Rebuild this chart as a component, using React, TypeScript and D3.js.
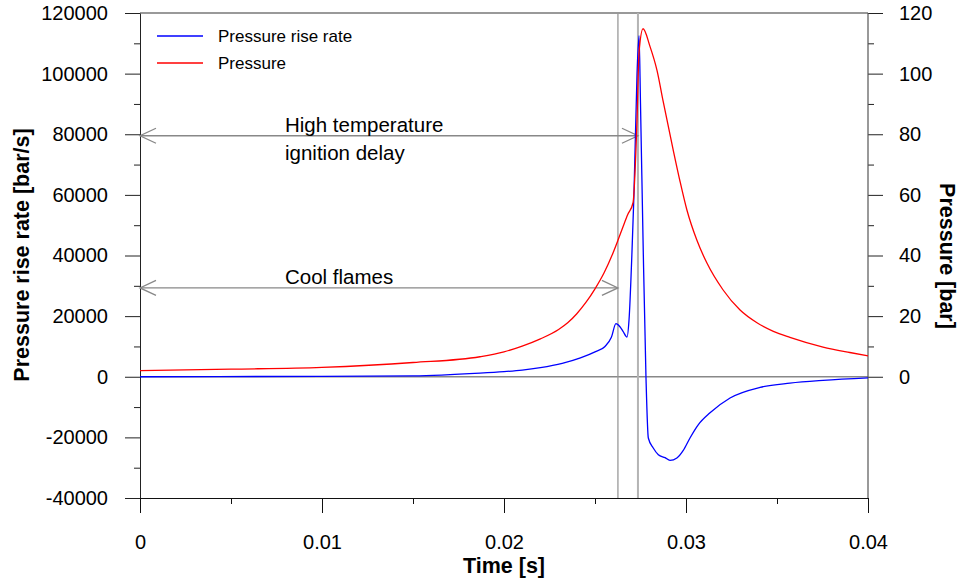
import React, { useEffect, useRef } from 'react';
import * as d3 from 'd3';

// time [s] / pressure [bar]
const pressureTime = [0, 0.005, 0.01, 0.015, 0.01868, 0.02, 0.021, 0.022, 0.023, 0.0235, 0.024, 0.0245, 0.025, 0.0255, 0.026, 0.02626, 0.02654, 0.0268, 0.02709, 0.02731, 0.02742, 0.02764, 0.02802, 0.02841, 0.02874, 0.02929, 0.02967, 0.03005, 0.0306, 0.03115, 0.03203, 0.03297, 0.0339, 0.0348, 0.03571, 0.03753, 0.039, 0.04];
const pressureValues = [2.0, 2.5, 3.1, 4.7, 6.6, 8.2, 10.1, 12.5, 15.6, 17.8, 20.8, 24.5, 29.0, 34.3, 41, 45, 49.5, 53.5, 57.4, 85, 107, 114.8, 109, 101, 91, 75, 64.5, 55, 45, 37.5, 28.7, 22, 17.8, 15.0, 13.0, 9.8, 8.0, 6.9];

// time [s] / pressure rise rate [bar/s]
const rateTime = [0, 0.01, 0.015, 0.01868, 0.02, 0.021, 0.022, 0.0232, 0.0242, 0.025, 0.02555, 0.0259, 0.02615, 0.02637, 0.02654, 0.02676, 0.02687, 0.02703, 0.02714, 0.02731, 0.02742, 0.0275, 0.02764, 0.0278, 0.02793, 0.0282, 0.02848, 0.02885, 0.02912, 0.0295, 0.02985, 0.03022, 0.03068, 0.03132, 0.03242, 0.03407, 0.03571, 0.03753, 0.04];
const rateValues = [0, 150, 300, 1200, 1700, 2200, 3000, 4400, 6200, 8200, 10000, 13000, 17500, 16500, 15000, 13100, 18800, 40900, 60000, 100000, 112500, 90000, 45000, 0, -20200, -23500, -25700, -26700, -27600, -26800, -24300, -20200, -15800, -11900, -7000, -3500, -2100, -1200, -400];

// annotations
const markerTimes = [0.02626, 0.02736];
const arrowLevels = [29300, 79500];
const arrowLabels = [['Cool flames'], ['High temperature', 'ignition delay']];

const xTicks = [0, 0.01, 0.02, 0.03, 0.04];
const yTicks = [-40000, -20000, 0, 20000, 40000, 60000, 80000, 100000, 120000];
const y2Ticks = [0, 20, 40, 60, 80, 100, 120];

const W = 966;
const H = 582;
const margin = { top: 13, right: 98, bottom: 84, left: 140 };

const App = () => {
  const ref = useRef<SVGSVGElement>(null);

  useEffect(() => {
    const svg = d3.select(ref.current);
    svg.selectAll('*').remove();

    const width = W - margin.left - margin.right;
    const height = H - margin.top - margin.bottom;
    const font = 'Arial, "Liberation Sans", sans-serif';

    const x = d3.scaleLinear().domain([0, 0.04]).range([0, width]);
    const y = d3.scaleLinear().domain([-40000, 120000]).range([height, 0]);
    const y2 = d3.scaleLinear().domain([0, 120]).range([y(0), y(120000)]);

    const g = svg.append('g').attr('transform', `translate(${margin.left}, ${margin.top})`);

    // frame + zero line
    g.append('line').attr('x1', 0).attr('x2', width).attr('y1', 0).attr('y2', 0)
      .attr('stroke', '#777').attr('stroke-width', 1.5);
    g.append('line').attr('x1', 0).attr('x2', width).attr('y1', y(0)).attr('y2', y(0))
      .attr('stroke', '#888').attr('stroke-width', 1.5);

    // AXIS

    const styleAxis = (sel, color) => {
      sel.selectAll('line').attr('stroke', color);
      sel.selectAll('path').attr('stroke', color);
      sel.selectAll('text').attr('font-family', font).attr('font-size', 20).attr('fill', '#000');
    };

    const minor = (vals, step) => d3.range(vals[0] + step / 2, vals[vals.length - 1], step);

    const left = g.append('g')
      .call(d3.axisLeft(y).tickValues(yTicks).tickSize(15).tickSizeOuter(0).tickPadding(17).tickFormat(d => String(d)));
    styleAxis(left, '#222');
    g.append('g')
      .call(d3.axisLeft(y).tickValues(minor(yTicks, 20000)).tickSize(6).tickFormat(() => ''))
      .call(s => s.select('.domain').remove())
      .call(s => s.selectAll('line').attr('stroke', '#222'));

    const right = g.append('g').attr('transform', `translate(${width}, 0)`)
      .call(d3.axisRight(y2).tickValues(y2Ticks).tickSize(15).tickSizeOuter(0).tickPadding(16).tickFormat(d => String(d)));
    right.select('.domain').remove();
    styleAxis(right, '#222');
    g.append('g').attr('transform', `translate(${width}, 0)`)
      .call(d3.axisRight(y2).tickValues(minor(y2Ticks, 20)).tickSize(6).tickFormat(() => ''))
      .call(s => s.select('.domain').remove())
      .call(s => s.selectAll('line').attr('stroke', '#222'));
    g.append('line').attr('x1', width).attr('x2', width).attr('y1', 0).attr('y2', height)
      .attr('stroke', '#555').attr('stroke-width', 1.2);

    const bottom = g.append('g').attr('transform', `translate(0, ${height})`)
      .call(d3.axisBottom(x).tickValues(xTicks).tickSize(15).tickSizeOuter(0).tickPadding(22).tickFormat(d => String(d)));
    styleAxis(bottom, '#111');
    g.append('g').attr('transform', `translate(0, ${height})`)
      .call(d3.axisBottom(x).tickValues(minor(xTicks, 0.01)).tickSize(6).tickFormat(() => ''))
      .call(s => s.select('.domain').remove())
      .call(s => s.selectAll('line').attr('stroke', '#111'));

    // AXIS TITLES

    const title = (sel) => sel.attr('text-anchor', 'middle').attr('font-family', font)
      .attr('font-size', 21.5).attr('font-weight', 'bold');
    g.append('text').attr('x', width / 2).attr('y', height + 75).call(title).text('Time [s]');
    svg.append('text').attr('transform', `translate(29, 255) rotate(-90)`).call(title)
      .text('Pressure rise rate [bar/s]');
    svg.append('text').attr('transform', `translate(940, 256) rotate(90)`).call(title)
      .text('Pressure [bar]');

    // MARKERS

    markerTimes.forEach((t, i) => {
      g.append('line').attr('x1', x(t)).attr('x2', x(t)).attr('y1', 0).attr('y2', height)
        .attr('stroke', i === 0 ? '#999' : '#b4b4b4').attr('stroke-width', i === 0 ? 1.3 : 2);
    });

    arrowLevels.forEach((v, i) => {
      const yy = y(v);
      const x0 = x(0);
      const x1 = x(markerTimes[i]);
      const a = g.append('g').attr('stroke', '#888').attr('stroke-width', 1.3).attr('fill', 'none');
      a.append('line').attr('x1', x0).attr('x2', x1).attr('y1', yy).attr('y2', yy);
      a.append('path').attr('d', `M${x0 + 16},${yy - 7.5}L${x0},${yy}L${x0 + 16},${yy + 7.5}`);
      a.append('path').attr('d', `M${x1 - 16},${yy - 7.5}L${x1},${yy}L${x1 - 16},${yy + 7.5}`);
      const t = g.append('text').attr('font-family', font).attr('font-size', 20.5).attr('fill', '#000');
      arrowLabels[i].forEach((s, j) => {
        t.append('tspan').attr('x', 145).attr('y', yy - 4 + j * 28).text(s);
      });
    });

    // LINES

    const pressureLine = d3.line<number>()
      .x((d, i) => x(pressureTime[i]))
      .y(d => y2(d))
      .curve(d3.curveMonotoneX);
    const rateLine = d3.line<number>()
      .x((d, i) => x(rateTime[i]))
      .y(d => y(d))
      .curve(d3.curveMonotoneX);

    g.append('path').attr('d', rateLine(rateValues)).attr('fill', 'none').attr('stroke', '#0000ff').attr('stroke-width', 1.3);
    g.append('path').attr('d', pressureLine(pressureValues)).attr('fill', 'none').attr('stroke', '#ff0000').attr('stroke-width', 1.3);

    // LEGEND

    const legend = [['Pressure rise rate', '#0000ff'], ['Pressure', '#ff0000']];
    legend.forEach(([label, color], i) => {
      const ly = 23 + i * 27;
      g.append('line').attr('x1', 17).attr('x2', 63).attr('y1', ly).attr('y2', ly)
        .attr('stroke', color).attr('stroke-width', 1.3);
      g.append('text').attr('x', 78).attr('y', ly + 6).attr('font-family', font).attr('font-size', 17)
        .text(label);
    });
  });

  return <svg ref={ref} width={W} height={H} style={{ position: 'absolute', left: 0, top: 0, background: '#fff' }} />;
};

export default App;
